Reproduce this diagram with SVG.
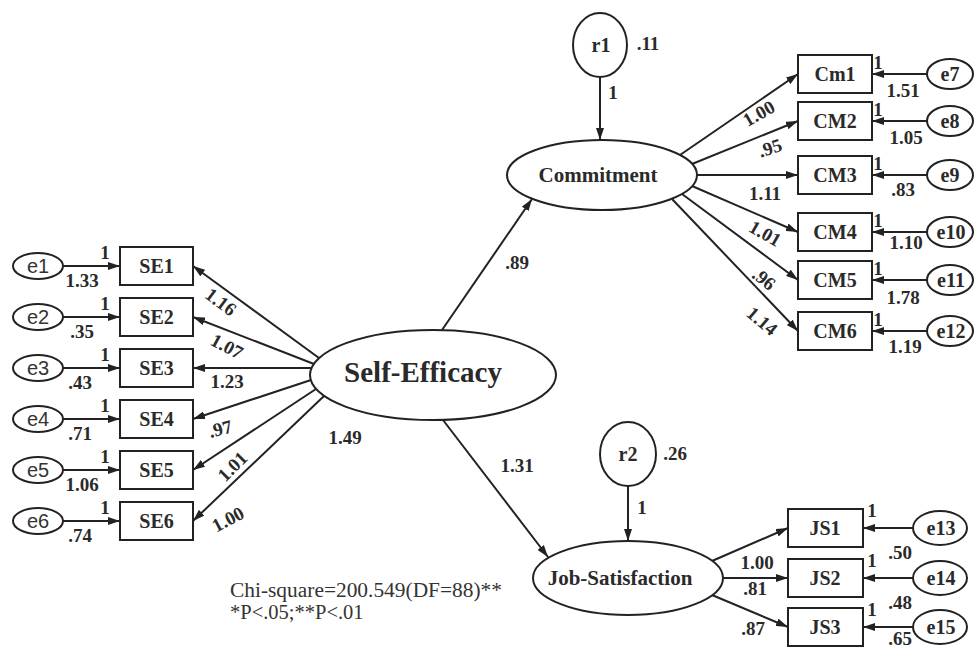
<svg xmlns="http://www.w3.org/2000/svg" width="975" height="650" viewBox="0 0 975 650">
<defs>
<marker id="ah" viewBox="0 0 12 8" refX="12" refY="4" markerWidth="12" markerHeight="8" markerUnits="userSpaceOnUse" orient="auto">
<path d="M0,0 L12,4 L0,8 z" fill="#222"/>
</marker>
<style>
.sh{fill:#fff;stroke:#222;stroke-width:2}
.ln{stroke:#222;stroke-width:2;fill:none;marker-end:url(#ah)}
.bt{font-family:"Liberation Serif","Times New Roman",serif;font-weight:bold;fill:#2a2a2a;text-anchor:middle}
.nm{font-size:20px}
.lb{font-size:19px}
.es{font-family:"Liberation Sans",Arial,sans-serif;font-size:20px;fill:#333;text-anchor:middle}
.note{font-family:"Liberation Serif","Times New Roman",serif;font-size:20.5px;fill:#333}
</style>
</defs>
<rect width="975" height="650" fill="#fff"/>

<g id="connectors">
<line class="ln" x1="63" y1="266" x2="120" y2="266"/>
<line class="ln" x1="63" y1="317" x2="120" y2="317"/>
<line class="ln" x1="63" y1="368" x2="120" y2="368"/>
<line class="ln" x1="63" y1="419" x2="120" y2="419"/>
<line class="ln" x1="63" y1="470" x2="120" y2="470"/>
<line class="ln" x1="63" y1="521" x2="120" y2="521"/>
<line class="ln" x1="319" y1="358" x2="193" y2="266"/>
<line class="ln" x1="314" y1="364" x2="193" y2="317"/>
<line class="ln" x1="312" y1="368" x2="193" y2="368"/>
<line class="ln" x1="311" y1="380" x2="193" y2="419"/>
<line class="ln" x1="316" y1="389" x2="193" y2="470"/>
<line class="ln" x1="324" y1="396" x2="193" y2="521"/>
<line class="ln" x1="442" y1="330" x2="532" y2="199"/>
<line class="ln" x1="443" y1="420" x2="548" y2="557"/>
<line class="ln" x1="600" y1="77" x2="600" y2="140"/>
<line class="ln" x1="628" y1="486" x2="628" y2="541"/>
<line class="ln" x1="680" y1="155" x2="798" y2="74"/>
<line class="ln" x1="692" y1="164" x2="798" y2="121"/>
<line class="ln" x1="697" y1="175" x2="798" y2="175"/>
<line class="ln" x1="692" y1="186" x2="798" y2="232"/>
<line class="ln" x1="682" y1="194" x2="798" y2="280"/>
<line class="ln" x1="672" y1="199" x2="798" y2="331"/>
<line class="ln" x1="927" y1="74" x2="872" y2="74"/>
<line class="ln" x1="927" y1="121" x2="872" y2="121"/>
<line class="ln" x1="927" y1="175" x2="872" y2="175"/>
<line class="ln" x1="927" y1="232" x2="872" y2="232"/>
<line class="ln" x1="927" y1="280" x2="872" y2="280"/>
<line class="ln" x1="927" y1="331" x2="872" y2="331"/>
<line class="ln" x1="712" y1="561" x2="788" y2="528"/>
<line class="ln" x1="723" y1="578" x2="788" y2="578"/>
<line class="ln" x1="712" y1="595" x2="788" y2="627"/>
<line class="ln" x1="913" y1="528" x2="863" y2="528"/>
<line class="ln" x1="913" y1="578" x2="863" y2="578"/>
<line class="ln" x1="913" y1="627" x2="863" y2="627"/>
</g>

<g id="edge-labels" class="bt lb">
<text x="105" y="259">1</text><text x="82" y="287">1.33</text>
<text x="105" y="310">1</text><text x="82" y="338">.35</text>
<text x="105" y="361">1</text><text x="80" y="389">.43</text>
<text x="105" y="412">1</text><text x="80" y="440">.71</text>
<text x="105" y="463">1</text><text x="82" y="491">1.06</text>
<text x="105" y="514">1</text><text x="80" y="542">.74</text>
<text transform="translate(217,307) rotate(37)">1.16</text>
<text transform="translate(224,352) rotate(28)">1.07</text>
<text x="227" y="388">1.23</text>
<text transform="translate(222,435) rotate(-15)">.97</text>
<text transform="translate(237,471) rotate(-45)">1.01</text>
<text transform="translate(231,525) rotate(-28)">1.00</text>
<text x="517" y="269">.89</text>
<text x="517" y="472">1.31</text>
<text x="345" y="444">1.49</text>
<text x="648" y="50">.11</text>
<text x="613" y="99">1</text>
<text x="675" y="460">.26</text>
<text x="642" y="514">1</text>
<text transform="translate(762,119) rotate(-30)">1.00</text>
<text transform="translate(772,154) rotate(-18)">.95</text>
<text x="765" y="200">1.11</text>
<text transform="translate(762,239) rotate(30)">1.01</text>
<text transform="translate(760,284) rotate(38)">.96</text>
<text transform="translate(758,326) rotate(40)">1.14</text>
<text x="878" y="69">1</text><text x="903" y="97">1.51</text>
<text x="878" y="116">1</text><text x="906" y="144">1.05</text>
<text x="878" y="170">1</text><text x="903" y="196">.83</text>
<text x="878" y="227">1</text><text x="906" y="249">1.10</text>
<text x="878" y="275">1</text><text x="903" y="304">1.78</text>
<text x="878" y="326">1</text><text x="905" y="353">1.19</text>
<text x="757" y="569">1.00</text>
<text x="755" y="595">.81</text>
<text x="753" y="635">.87</text>
<text x="872" y="517">1</text><text x="900" y="559">.50</text>
<text x="872" y="567">1</text><text x="900" y="609">.48</text>
<text x="872" y="616">1</text><text x="900" y="645">.65</text>
</g>

<g id="e1"><ellipse class="sh" cx="38" cy="266" rx="25" ry="13"/><text class="es" x="38" y="273">e1</text></g>
<g id="e2"><ellipse class="sh" cx="38" cy="317" rx="25" ry="13"/><text class="es" x="38" y="324">e2</text></g>
<g id="e3"><ellipse class="sh" cx="38" cy="368" rx="25" ry="13"/><text class="es" x="38" y="375">e3</text></g>
<g id="e4"><ellipse class="sh" cx="38" cy="419" rx="25" ry="13"/><text class="es" x="38" y="426">e4</text></g>
<g id="e5"><ellipse class="sh" cx="38" cy="470" rx="25" ry="13"/><text class="es" x="38" y="477">e5</text></g>
<g id="e6"><ellipse class="sh" cx="38" cy="521" rx="25" ry="13"/><text class="es" x="38" y="528">e6</text></g>

<g id="SE1"><rect class="sh" x="120" y="247" width="73" height="38"/><text class="bt nm" x="156.5" y="273">SE1</text></g>
<g id="SE2"><rect class="sh" x="120" y="298" width="73" height="38"/><text class="bt nm" x="156.5" y="324">SE2</text></g>
<g id="SE3"><rect class="sh" x="120" y="349" width="73" height="38"/><text class="bt nm" x="156.5" y="375">SE3</text></g>
<g id="SE4"><rect class="sh" x="120" y="400" width="73" height="38"/><text class="bt nm" x="156.5" y="426">SE4</text></g>
<g id="SE5"><rect class="sh" x="120" y="451" width="73" height="38"/><text class="bt nm" x="156.5" y="477">SE5</text></g>
<g id="SE6"><rect class="sh" x="120" y="502" width="73" height="38"/><text class="bt nm" x="156.5" y="528">SE6</text></g>

<g id="self-efficacy"><ellipse class="sh" cx="433" cy="375" rx="123" ry="45"/><text class="bt" x="423" y="382" font-size="29">Self-Efficacy</text></g>
<g id="commitment"><ellipse class="sh" cx="602" cy="175" rx="95" ry="35"/><text class="bt" x="598" y="182" font-size="21">Commitment</text></g>
<g id="job-satisfaction"><ellipse class="sh" cx="628" cy="578" rx="95" ry="37"/><text class="bt" x="620" y="585" font-size="21">Job-Satisfaction</text></g>

<g id="r1"><ellipse class="sh" cx="600" cy="45" rx="27" ry="32"/><text class="bt nm" x="601" y="52">r1</text></g>
<g id="r2"><ellipse class="sh" cx="628" cy="454" rx="28" ry="32"/><text class="bt nm" x="628" y="461">r2</text></g>

<g id="Cm1"><rect class="sh" x="798" y="55" width="74" height="38"/><text class="bt nm" x="835" y="81">Cm1</text></g>
<g id="CM2"><rect class="sh" x="798" y="102" width="74" height="38"/><text class="bt nm" x="835" y="128">CM2</text></g>
<g id="CM3"><rect class="sh" x="798" y="156" width="74" height="38"/><text class="bt nm" x="835" y="182">CM3</text></g>
<g id="CM4"><rect class="sh" x="798" y="213" width="74" height="38"/><text class="bt nm" x="835" y="239">CM4</text></g>
<g id="CM5"><rect class="sh" x="798" y="261" width="74" height="38"/><text class="bt nm" x="835" y="287">CM5</text></g>
<g id="CM6"><rect class="sh" x="798" y="312" width="74" height="38"/><text class="bt nm" x="835" y="338">CM6</text></g>

<g id="e7"><ellipse class="sh" cx="950" cy="74" rx="23" ry="15"/><text class="bt nm" x="950" y="81">e7</text></g>
<g id="e8"><ellipse class="sh" cx="950" cy="121" rx="23" ry="15"/><text class="bt nm" x="950" y="128">e8</text></g>
<g id="e9"><ellipse class="sh" cx="950" cy="175" rx="23" ry="15"/><text class="bt nm" x="950" y="182">e9</text></g>
<g id="e10"><ellipse class="sh" cx="950" cy="232" rx="23" ry="15"/><text class="bt nm" x="951" y="239">e10</text></g>
<g id="e11"><ellipse class="sh" cx="950" cy="280" rx="23" ry="15"/><text class="bt nm" x="951" y="287">e11</text></g>
<g id="e12"><ellipse class="sh" cx="950" cy="331" rx="23" ry="15"/><text class="bt nm" x="951" y="338">e12</text></g>

<g id="JS1"><rect class="sh" x="788" y="509" width="75" height="38"/><text class="bt nm" x="825" y="535">JS1</text></g>
<g id="JS2"><rect class="sh" x="788" y="559" width="75" height="38"/><text class="bt nm" x="825" y="585">JS2</text></g>
<g id="JS3"><rect class="sh" x="788" y="608" width="75" height="38"/><text class="bt nm" x="825" y="634">JS3</text></g>

<g id="e13"><ellipse class="sh" cx="940" cy="528" rx="27" ry="17"/><text class="bt nm" x="941" y="535">e13</text></g>
<g id="e14"><ellipse class="sh" cx="940" cy="578" rx="27" ry="17"/><text class="bt nm" x="941" y="585">e14</text></g>
<g id="e15"><ellipse class="sh" cx="940" cy="627" rx="27" ry="17"/><text class="bt nm" x="941" y="634">e15</text></g>

<g id="notes">
<text class="note" x="230" y="597" textLength="272" lengthAdjust="spacingAndGlyphs">Chi-square=200.549(DF=88)**</text>
<text class="note" x="230" y="619">*P&lt;.05;**P&lt;.01</text>
</g>
</svg>
